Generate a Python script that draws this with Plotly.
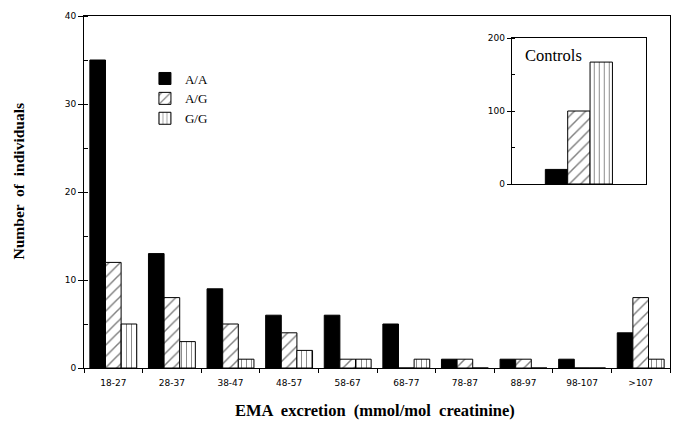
import plotly.graph_objects as go

categories = ["18-27", "28-37", "38-47", "48-57", "58-67", "68-77", "78-87", "88-97", "98-107", ">107"]
aa_values = [35, 13, 9, 6, 6, 5, 1, 1, 1, 4]
ag_values = [12, 8, 5, 4, 1, 0, 1, 1, 0, 8]
gg_values = [5, 3, 1, 2, 1, 1, 0, 0, 0, 1]

genotypes = ["A/A", "A/G", "G/G"]
control_values = [20, 100, 167]

patterns = {"A/A": "", "A/G": "/", "G/G": "|"}
psize = {"A/A": 8, "A/G": 8, "G/G": 5}
fills = {"A/A": "black", "A/G": "white", "G/G": "white"}

fig = go.Figure()
for name, vals in zip(genotypes, [aa_values, ag_values, gg_values]):
    fig.add_trace(go.Bar(
        x=categories, y=vals, name=name,
        marker=dict(color=fills[name], line=dict(color="black", width=1),
                    pattern=dict(shape=patterns[name], fgcolor="black", bgcolor=fills[name],
                                 size=psize[name], solidity=0.18)),
        xaxis="x", yaxis="y",
    ))

# inset controls
for name, val in zip(genotypes, control_values):
    fig.add_trace(go.Bar(
        x=["Controls"], y=[val], name=name, showlegend=False,
        marker=dict(color=fills[name], line=dict(color="black", width=1),
                    pattern=dict(shape=patterns[name], fgcolor="black", bgcolor=fills[name],
                                 size=psize[name], solidity=0.18)),
        xaxis="x2", yaxis="y2",
    ))

tickfont = dict(family="DejaVu Sans, Arial", size=9, color="black")
serif = "Liberation Serif, Times New Roman"

fig.update_layout(
    width=677, height=427,
    margin=dict(l=76, r=15, t=8, b=67, autoexpand=False),
    paper_bgcolor="white", plot_bgcolor="white",
    barmode="group", bargap=0.2, bargroupgap=0,
    showlegend=True,
    legend=dict(x=0.104, y=0.865, xanchor="left", yanchor="top",
                font=dict(family=serif, size=13, color="black"),
                bgcolor="rgba(0,0,0,0)", tracegroupgap=0, itemwidth=30),
    xaxis=dict(domain=[0, 1], showline=True, linecolor="black", linewidth=1, mirror=True,
               ticks="outside", ticklen=4, tickcolor="black", tickson="boundaries",
               ticklabelstandoff=6,
               tickfont=tickfont, showgrid=False, zeroline=False, automargin=False),
    yaxis=dict(domain=[0, 1], range=[0, 40], showline=True, linecolor="black", linewidth=1, mirror=True,
               ticks="outside", ticklen=5, tickcolor="black", dtick=10, tickfont=tickfont,
               showgrid=False, zeroline=False, automargin=False,
               minor=dict(ticks="inside", dtick=5, ticklen=4, tickcolor="black", showgrid=False)),
    xaxis2=dict(domain=[0.730, 0.959], anchor="y2", range=[-0.8, 0.8], showline=True, linecolor="black",
                linewidth=1, mirror=True, showticklabels=False, ticks="", showgrid=False,
                zeroline=False, automargin=False),
    yaxis2=dict(domain=[0.5227, 0.9375], anchor="x2", range=[0, 200], showline=True, linecolor="black",
                linewidth=1, mirror=True, ticks="outside", ticklen=4, tickcolor="black", dtick=100,
                tickfont=tickfont, showgrid=False, zeroline=False, automargin=False,
                minor=dict(ticks="inside", dtick=50, ticklen=3, tickcolor="black", showgrid=False)),
    annotations=[
        dict(text="Controls", xref="paper", yref="paper", x=0.749, y=0.92, xanchor="left", yanchor="top",
             showarrow=False, font=dict(family=serif, size=16.5, color="black")),
        dict(text="<b>EMA  excretion  (mmol/mol  creatinine)</b>", xref="paper", yref="paper",
             x=0.497, y=-0.12, xanchor="center", yanchor="middle", showarrow=False,
             font=dict(family=serif, size=16.5, color="black")),
        dict(text="<b>Number  of  individuals</b>", xref="paper", yref="paper", textangle=-90,
             x=-0.1126, y=0.53, xanchor="center", yanchor="middle", showarrow=False,
             font=dict(family=serif, size=15.5, color="black")),
    ],
)

fig.write_html("out.html")
